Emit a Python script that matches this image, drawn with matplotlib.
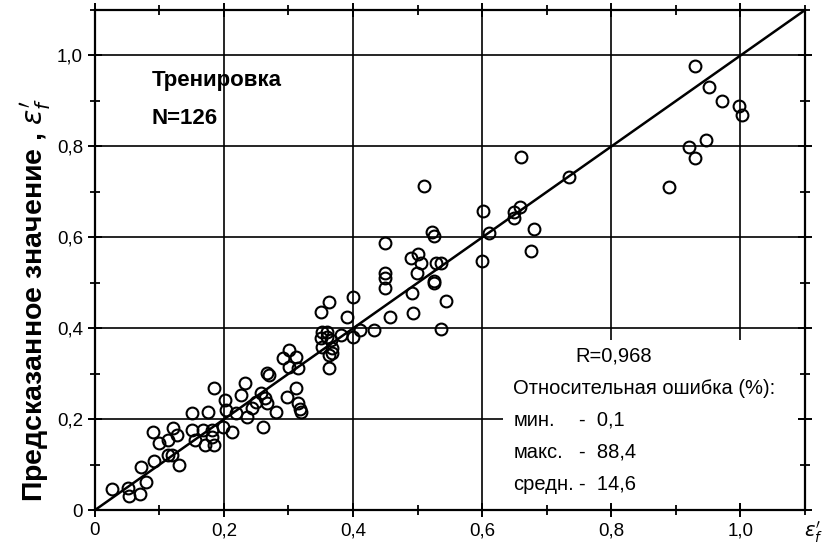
import matplotlib
matplotlib.use("Agg")
import matplotlib.pyplot as plt
from matplotlib.patches import Rectangle
from matplotlib.ticker import MultipleLocator, FixedLocator

plt.rcParams['font.family'] = ['Liberation Sans', 'DejaVu Sans']

x_exp = [0.026, 0.051, 0.053, 0.070, 0.080, 0.071, 0.091, 0.131, 0.113, 0.090,
         0.099, 0.113, 0.121, 0.128, 0.150, 0.150, 0.167, 0.170, 0.185, 0.175,
         0.181, 0.198, 0.185, 0.201, 0.204, 0.212, 0.219, 0.227, 0.232, 0.235,
         0.243, 0.250, 0.258, 0.260, 0.263, 0.266, 0.281, 0.298, 0.312, 0.314,
         0.320, 0.119, 0.155, 0.182, 0.267, 0.301, 0.291, 0.312, 0.301, 0.314,
         0.270, 0.318,
         0.400, 0.391, 0.362, 0.351, 0.352, 0.360, 0.352, 0.368, 0.362, 0.363,
         0.382, 0.400, 0.411, 0.433, 0.366, 0.359, 0.351, 0.368,
         0.450, 0.450, 0.450, 0.450, 0.490, 0.501, 0.505, 0.499, 0.529, 0.536,
         0.525, 0.525, 0.491, 0.544, 0.493, 0.457, 0.536, 0.525, 0.522, 0.510,
         0.600, 0.611, 0.680, 0.675, 0.601, 0.649, 0.649, 0.658, 0.660, 0.734,
         0.890, 0.920, 0.930, 0.946, 0.930, 0.951, 0.972, 0.998, 1.002]
y_pred = [0.046, 0.048, 0.031, 0.035, 0.062, 0.095, 0.108, 0.099, 0.121, 0.171,
          0.147, 0.154, 0.180, 0.165, 0.213, 0.176, 0.176, 0.143, 0.143, 0.215,
          0.176, 0.182, 0.268, 0.242, 0.220, 0.171, 0.213, 0.253, 0.279, 0.204,
          0.224, 0.237, 0.257, 0.182, 0.246, 0.235, 0.215, 0.248, 0.268, 0.235,
          0.215, 0.121, 0.154, 0.160, 0.301, 0.352, 0.334, 0.336, 0.314, 0.312,
          0.297, 0.222,
          0.468, 0.426, 0.457, 0.437, 0.391, 0.391, 0.358, 0.356, 0.341, 0.312,
          0.385, 0.380, 0.396, 0.396, 0.374, 0.380, 0.378, 0.345,
          0.587, 0.521, 0.510, 0.488, 0.554, 0.563, 0.543, 0.521, 0.543, 0.543,
          0.505, 0.499, 0.477, 0.459, 0.433, 0.426, 0.398, 0.604, 0.611, 0.712,
          0.549, 0.609, 0.618, 0.569, 0.657, 0.655, 0.642, 0.666, 0.776, 0.732,
          0.710, 0.798, 0.774, 0.815, 0.976, 0.930, 0.901, 0.888, 0.870]

tick_vals = [0, 0.2, 0.4, 0.6, 0.8, 1.0]
tick_labels = ["0", "0,2", "0,4", "0,6", "0,8", "1,0"]
line_ends = [0, 1.1]

fig = plt.figure(figsize=(8.24, 5.57), dpi=100)
ax = fig.add_axes([0.115, 0.084, 0.862, 0.898])
ax.set_xlim(0, 1.1)
ax.set_ylim(0, 1.1)

for v in tick_vals[1:]:
    ax.axvline(v, color='black', lw=1.2, zorder=0.5)
    ax.axhline(v, color='black', lw=1.2, zorder=0.5)

ax.add_patch(Rectangle((0.575, 0.01), 0.415, 0.33, transform=ax.transAxes,
                       facecolor='white', edgecolor='none', zorder=1))

ax.plot(line_ends, line_ends, color='black', lw=1.8, zorder=2)
ax.plot(x_exp, y_pred, linestyle='none', marker='o', markersize=8.5,
        markerfacecolor='none', markeredgecolor='black', markeredgewidth=1.5,
        zorder=3)

ax.xaxis.set_major_locator(FixedLocator(tick_vals))
ax.yaxis.set_major_locator(FixedLocator(tick_vals))
ax.set_xticklabels(tick_labels)
ax.set_yticklabels(tick_labels)
ax.xaxis.set_minor_locator(MultipleLocator(0.1))
ax.yaxis.set_minor_locator(MultipleLocator(0.1))
ax.tick_params(axis='both', which='major', direction='inout', length=10,
               width=1.4, labelsize=13.5, top=True, right=True)
ax.tick_params(axis='both', which='minor', direction='inout', length=7,
               width=1.3, top=True, right=True)
for s in ax.spines.values():
    s.set_linewidth(1.6)

ax.set_ylabel("Предсказанное значение , $\\varepsilon_f^{\\prime}$",
              fontsize=20.5, fontweight='bold')
ax.yaxis.set_label_coords(-0.058, 0.42)
ax.text(1.012, -0.045, "$\\varepsilon_f^{\\prime}$", transform=ax.transAxes,
        fontsize=14, ha='center', va='center')

ax.text(0.088, 0.945, "Тренировка", fontsize=16, fontweight='bold',
        va='center', ha='left')
ax.text(0.088, 0.862, "N=126", fontsize=16, fontweight='bold',
        va='center', ha='left')

fs = 14.5
tx = 0.648
ax.text(0.804, 0.34, "R=0,968", fontsize=fs, ha='center', va='center')
ax.text(tx, 0.268, "Относительная ошибка (%):", fontsize=fs, va='center')
ax.text(tx, 0.198, "мин.", fontsize=fs, va='center')
ax.text(tx, 0.128, "макс.", fontsize=fs, va='center')
ax.text(tx, 0.057, "средн.", fontsize=fs, va='center')
vx = 0.75
ax.text(vx, 0.198, "-  0,1", fontsize=fs, va='center')
ax.text(vx, 0.128, "-  88,4", fontsize=fs, va='center')
ax.text(vx, 0.057, "-  14,6", fontsize=fs, va='center')

fig.savefig("out.png", dpi=100)
